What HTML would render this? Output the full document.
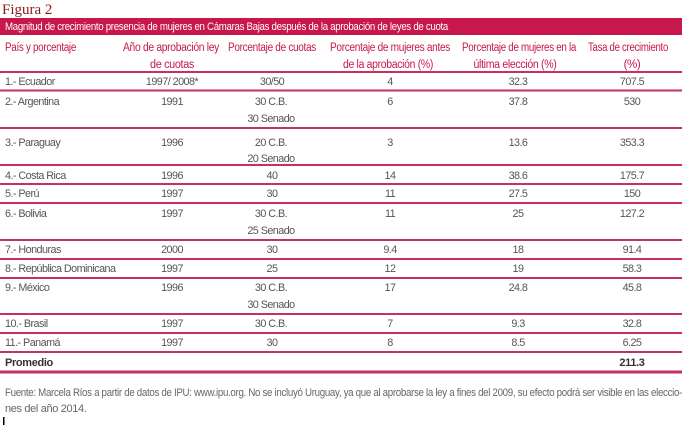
<!DOCTYPE html>
<html><head><meta charset="utf-8"><style>
html,body{margin:0;padding:0;background:#fff;width:690px;height:425px;overflow:hidden}
svg text{font-family:"Liberation Sans",sans-serif;font-size:11px;letter-spacing:-0.35px}
.h{fill:#c8174a}
.h text{font-size:11.5px}
.b text{fill:#555;font-size:10.8px;letter-spacing:-0.55px}
.m{text-anchor:middle}
</style></head><body>
<svg width="690" height="425" viewBox="0 0 690 425" xmlns="http://www.w3.org/2000/svg">
<text x="2" y="14" style="font-family:'Liberation Serif',serif;font-size:15px;letter-spacing:0" fill="#8b1a1a">Figura 2</text>
<rect x="0" y="18" width="682" height="17" fill="#c8174a"/>
<text x="5" y="30" fill="#fff" textLength="443" lengthAdjust="spacingAndGlyphs">Magnitud de crecimiento presencia de mujeres en Cámaras Bajas después de la aprobación de leyes de cuota</text>
<g class="h">
<text x="5" y="51" textLength="71" lengthAdjust="spacingAndGlyphs">País y porcentaje</text>
<text class="m" x="171" y="51" textLength="96" lengthAdjust="spacingAndGlyphs">Año de aprobación ley</text><text class="m" x="172" y="68" textLength="44" lengthAdjust="spacingAndGlyphs">de cuotas</text>
<text class="m" x="272" y="51" textLength="88" lengthAdjust="spacingAndGlyphs">Porcentaje de cuotas</text>
<text class="m" x="390" y="51" textLength="120" lengthAdjust="spacingAndGlyphs">Porcentaje de mujeres antes</text><text class="m" x="388" y="68" textLength="90" lengthAdjust="spacingAndGlyphs">de la aprobación (%)</text>
<text class="m" x="519" y="51" textLength="114" lengthAdjust="spacingAndGlyphs">Porcentaje de mujeres en la</text><text class="m" x="515" y="68" textLength="83" lengthAdjust="spacingAndGlyphs">última elección (%)</text>
<text class="m" x="628" y="51" textLength="80" lengthAdjust="spacingAndGlyphs">Tasa de crecimiento</text><text class="m" x="632" y="68">(%)</text>
</g>
<g stroke="#c8305e" stroke-width="2">
<line x1="0" x2="682" y1="72" y2="72"/>
<line x1="0" x2="682" y1="90.5" y2="90.5"/>
<line x1="0" x2="682" y1="128" y2="128"/>
<line x1="0" x2="682" y1="165" y2="165"/>
<line x1="0" x2="682" y1="184" y2="184"/>
<line x1="0" x2="682" y1="203" y2="203"/>
<line x1="0" x2="682" y1="240" y2="240"/>
<line x1="0" x2="682" y1="259" y2="259"/>
<line x1="0" x2="682" y1="278" y2="278"/>
<line x1="0" x2="682" y1="314" y2="314"/>
<line x1="0" x2="682" y1="333" y2="333"/>
<line x1="0" x2="682" y1="352" y2="352"/>
<line x1="0" x2="682" y1="372" y2="372" stroke-width="3"/>
</g>
<g class="b">
<text x="5" y="85">1.- Ecuador</text><text class="m" x="172" y="85">1997/ 2008*</text><text class="m" x="272" y="85">30/50</text><text class="m" x="390" y="85">4</text><text class="m" x="518" y="85">32.3</text><text class="m" x="632" y="85">707.5</text>
<text x="5" y="105">2.- Argentina</text><text class="m" x="172" y="105">1991</text><text class="m" x="271" y="105">30 C.B.</text><text class="m" x="271" y="122">30 Senado</text><text class="m" x="390" y="105">6</text><text class="m" x="518" y="105">37.8</text><text class="m" x="632" y="105">530</text>
<text x="5" y="146">3.- Paraguay</text><text class="m" x="172" y="146">1996</text><text class="m" x="271" y="146">20 C.B.</text><text class="m" x="271" y="162">20 Senado</text><text class="m" x="390" y="146">3</text><text class="m" x="518" y="146">13.6</text><text class="m" x="632" y="146">353.3</text>
<text x="5" y="179">4.- Costa Rica</text><text class="m" x="172" y="179">1996</text><text class="m" x="272" y="179">40</text><text class="m" x="390" y="179">14</text><text class="m" x="518" y="179">38.6</text><text class="m" x="632" y="179">175.7</text>
<text x="5" y="197">5.- Perú</text><text class="m" x="172" y="197">1997</text><text class="m" x="272" y="197">30</text><text class="m" x="390" y="197">11</text><text class="m" x="518" y="197">27.5</text><text class="m" x="632" y="197">150</text>
<text x="5" y="217">6.- Bolivia</text><text class="m" x="172" y="217">1997</text><text class="m" x="271" y="217">30 C.B.</text><text class="m" x="271" y="234">25 Senado</text><text class="m" x="390" y="217">11</text><text class="m" x="518" y="217">25</text><text class="m" x="632" y="217">127.2</text>
<text x="5" y="253">7.- Honduras</text><text class="m" x="172" y="253">2000</text><text class="m" x="272" y="253">30</text><text class="m" x="390" y="253">9.4</text><text class="m" x="518" y="253">18</text><text class="m" x="632" y="253">91.4</text>
<text x="5" y="272">8.- República Dominicana</text><text class="m" x="172" y="272">1997</text><text class="m" x="272" y="272">25</text><text class="m" x="390" y="272">12</text><text class="m" x="518" y="272">19</text><text class="m" x="632" y="272">58.3</text>
<text x="5" y="291">9.- México</text><text class="m" x="172" y="291">1996</text><text class="m" x="271" y="291">30 C.B.</text><text class="m" x="271" y="308">30 Senado</text><text class="m" x="390" y="291">17</text><text class="m" x="518" y="291">24.8</text><text class="m" x="632" y="291">45.8</text>
<text x="5" y="327">10.- Brasil</text><text class="m" x="172" y="327">1997</text><text class="m" x="271" y="327">30 C.B.</text><text class="m" x="390" y="327">7</text><text class="m" x="518" y="327">9.3</text><text class="m" x="632" y="327">32.8</text>
<text x="5" y="346">11.- Panamá</text><text class="m" x="172" y="346">1997</text><text class="m" x="272" y="346">30</text><text class="m" x="390" y="346">8</text><text class="m" x="518" y="346">8.5</text><text class="m" x="632" y="346">6.25</text>
</g>
<text x="5" y="366" fill="#333" font-weight="bold">Promedio</text>
<text class="m" x="632" y="366" fill="#333" font-weight="bold">211.3</text>
<text x="5" y="396" fill="#666" textLength="677" lengthAdjust="spacingAndGlyphs">Fuente: Marcela Ríos a partir de datos de IPU: www.ipu.org. No se incluyó Uruguay, ya que al aprobarse la ley a fines del 2009, su efecto podrá ser visible en las eleccio-</text>
<text x="5" y="412" fill="#666">nes del año 2014.</text>
<rect x="3" y="417" width="1.5" height="8" fill="#000"/>
</svg>
</body></html>
